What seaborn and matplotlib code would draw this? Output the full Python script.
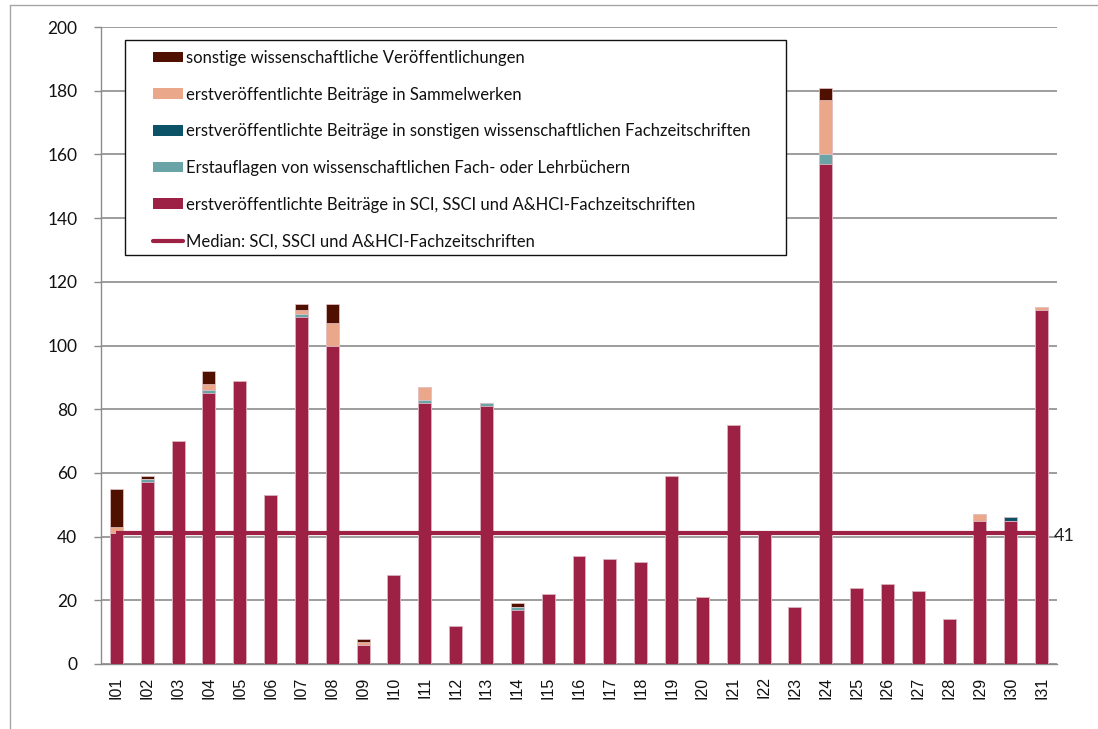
import numpy as np
import matplotlib
matplotlib.use("Agg")
import matplotlib.pyplot as plt
from matplotlib.patches import Rectangle, Patch
from matplotlib.lines import Line2D
import seaborn as sns

# Publications per institute, stacked by type
institutes = [f"I{i:02d}" for i in range(1, 32)]
sci_journals = [41, 57, 70, 85, 89, 53, 109, 100, 6, 28, 82, 12, 81, 17, 22, 34,
                33, 32, 59, 21, 75, 41, 18, 157, 24, 25, 23, 14, 45, 45, 111]
textbooks = [0, 1, 0, 1, 0, 0, 1, 0, 0, 0, 1, 0, 1, 1, 0, 0,
             0, 0, 0, 0, 0, 0, 0, 3, 0, 0, 0, 0, 0, 0, 0]
other_journals = [0, 0, 0, 0, 0, 0, 0, 0, 0, 0, 0, 0, 0, 0, 0, 0,
                  0, 0, 0, 0, 0, 0, 0, 0, 0, 0, 0, 0, 0, 1, 0]
collected_works = [2, 0, 0, 2, 0, 0, 1, 7, 1, 0, 4, 0, 0, 0, 0, 0,
                   0, 0, 0, 0, 0, 0, 0, 17, 0, 0, 0, 0, 2, 0, 1]
other_pubs = [12, 1, 0, 4, 0, 0, 2, 6, 1, 0, 0, 0, 0, 1, 0, 0,
              0, 0, 0, 0, 0, 0, 0, 4, 0, 0, 0, 0, 0, 0, 0]
median_sci = 41

labels = [
    "erstveröffentlichte Beiträge in SCI, SSCI und A&HCI-Fachzeitschriften",
    "Erstauflagen von wissenschaftlichen Fach- oder Lehrbüchern",
    "erstveröffentlichte Beiträge in sonstigen wissenschaftlichen Fachzeitschriften",
    "erstveröffentlichte Beiträge in Sammelwerken",
    "sonstige wissenschaftliche Veröffentlichungen",
]
median_label = "Median: SCI, SSCI und A&HCI-Fachzeitschriften"

c_sci = "#9C2144"
c_text = "#6BA4A7"
c_other_j = "#0D5368"
c_coll = "#EAA78A"
c_other = "#4F1000"
colors = [c_sci, c_text, c_other_j, c_coll, c_other]
grid_c = "#8C8C8C"

sns.set_theme(style="white")
plt.rcParams["font.family"] = ["Lato", "DejaVu Sans"]

W, H = 1098, 729
fig = plt.figure(figsize=(W / 100, H / 100), dpi=100)
ax = fig.add_axes([101 / W, 1 - 664 / H, (1057 - 101) / W, (664 - 27) / H])

layers = np.array([sci_journals, textbooks, other_journals, collected_works, other_pubs])
cum = np.cumsum(layers, axis=0)

# stacked bars: draw cumulative totals from the top layer downwards
for i in reversed(range(len(layers))):
    sns.barplot(x=institutes, y=cum[i], color=colors[i], saturation=1,
                width=0.42, ax=ax, edgecolor="#e8c9d0", linewidth=0.5, zorder=3)

# median line across the institutes
pos = np.arange(len(institutes))
ax.plot(pos, [median_sci] * len(pos), color=c_sci, lw=3, zorder=4,
        solid_capstyle="butt")
ax.annotate(str(median_sci), xy=(pos[-1], median_sci), xytext=(9, -2),
            textcoords="offset points", ha="left", va="center",
            fontsize=13, color="#222222", annotation_clip=False)

ax.set_xlim(-0.5, len(institutes) - 0.5)
ax.set_ylim(0, 200)
ax.set_yticks(np.arange(0, 201, 20))
ax.set_axisbelow(True)
ax.yaxis.grid(True, color=grid_c, lw=1.2)
ax.xaxis.grid(False)
for s in ["top", "right"]:
    ax.spines[s].set_visible(False)
for s in ["left", "bottom"]:
    ax.spines[s].set_color(grid_c)
    ax.spines[s].set_linewidth(1)

ax.set_xticks(pos)
ax.set_xticklabels(institutes, rotation=90, fontsize=11.5,
                   family=["Liberation Sans", "DejaVu Sans"], color="#111111")
ax.set_xticks(np.arange(-0.5, len(institutes), 1), minor=True)
ax.tick_params(axis="x", which="major", length=0, pad=9)
ax.tick_params(axis="x", which="minor", length=5, width=1, color=grid_c,
               direction="out")
ax.tick_params(axis="y", which="major", length=5, width=1, color=grid_c,
               direction="out", pad=12, labelsize=12.5, labelcolor="#111111")
ax.tick_params(left=True, bottom=True)
ax.set_xlabel("")
ax.set_ylabel("")

# legend box
fig.add_artist(Rectangle((125 / W, 1 - 255 / H), 661 / W, 215 / H,
                         transform=fig.transFigure, facecolor="white",
                         edgecolor="#111111", lw=1, zorder=4))
handles = [Patch(facecolor=colors[i], edgecolor="none") for i in reversed(range(5))]
handles.append(Line2D([], [], color=c_sci, lw=3))
leg_labels = list(reversed(labels)) + [median_label]
leg = fig.legend(handles, leg_labels, loc="upper left",
                 bbox_to_anchor=(153 / W, 1 - 50 / H),
                 bbox_transform=fig.transFigure, frameon=False,
                 fontsize=12, handlelength=1.8, handleheight=0.6,
                 handletextpad=0.2, labelspacing=1.24, borderpad=0,
                 borderaxespad=0)
leg.set_zorder(6)
for t in leg.get_texts():
    t.set_color("#111111")

# outer chart frame
fig.add_artist(Line2D([10 / W, 10 / W], [0, 1 - 5 / H], transform=fig.transFigure,
                      color="#A6A6A6", lw=1))
fig.add_artist(Line2D([10 / W, 1], [1 - 5 / H, 1 - 5 / H], transform=fig.transFigure,
                      color="#A6A6A6", lw=1))

fig.savefig("out.png", dpi=100)
